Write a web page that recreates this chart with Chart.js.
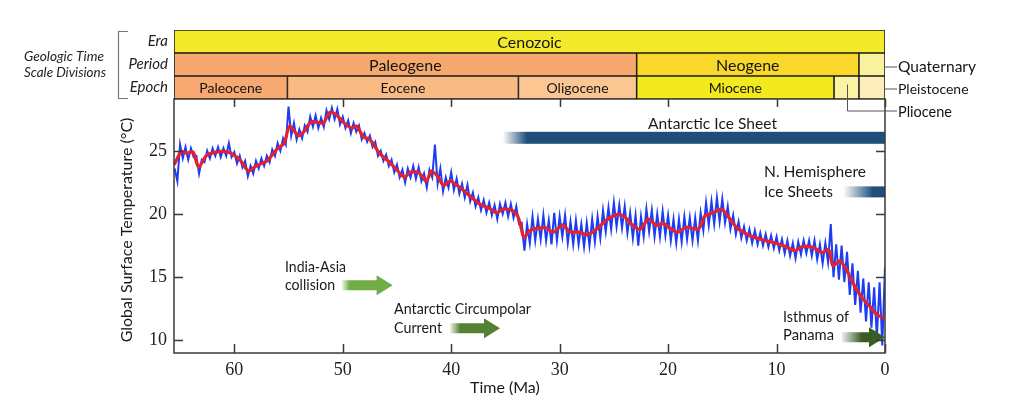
<!DOCTYPE html>
<html><head><meta charset="utf-8">
<script src="https://cdn.jsdelivr.net/npm/chart.js@4.4.1/dist/chart.umd.min.js"></script>
<style>
html,body{margin:0;padding:0;background:#fff;}
#wrap{position:relative;width:1024px;height:419px;overflow:hidden;}
#main{position:absolute;left:0;top:0;}
#scale{position:absolute;left:0;top:0;}
</style></head><body>
<div id="wrap">
<canvas id="main" width="1024" height="419"></canvas>
<canvas id="scale" width="1024" height="125"></canvas>
</div>
<script>
// ---------------- DATA ----------------
// Smoothed (red) curve: age (Ma) and temperature (°C)
const smoothAge = [65.56,65.4,64.9,64.4,63.8,63.3,62.6,61.7,60.6,59.5,58.7,58.0,57.0,56.1,55.4,54.9,54.1,53.6,52.9,51.8,51.2,50.6,50.0,49.2,48.7,48.1,47.5,46.6,45.7,44.7,44.3,43.8,43.0,42.3,41.8,41.2,40.7,40.1,39.2,38.3,37.4,36.4,35.8,35.2,34.3,33.8,33.5,33.3,32.7,31.8,31.2,30.6,29.7,29.1,28.1,27.5,26.6,25.7,24.75,24.1,23.4,22.6,21.8,21.1,20.45,19.2,18.3,17.2,16.6,15.8,15.1,14.5,13.7,12.75,11.5,10.3,9.4,8.3,7.7,6.6,5.8,5.2,4.8,4.15,3.5,2.9,2.15,1.4,0.77,0.3,0.05];
const smoothTemp = [23.9,24.15,24.95,24.8,24.9,23.7,24.6,24.9,24.9,24.3,23.4,23.8,24.2,25.1,25.6,26.95,26.2,26.5,27.3,27.2,28.05,27.85,27.3,26.8,26.95,26.1,25.9,24.8,24.1,23.2,22.9,23.3,23.3,22.6,23.4,22.9,22.25,22.6,22.1,21.45,20.8,20.4,20.1,20.4,20.25,19.7,18.7,18.15,18.7,18.9,18.9,18.55,19.15,18.6,18.55,18.35,18.8,19.5,19.95,19.85,19.2,18.8,19.6,19.1,19.25,18.55,18.95,18.8,19.85,20.1,20.4,19.85,18.95,18.4,18.0,17.75,17.5,17.1,17.4,17.35,16.95,17.2,15.9,16.3,15.5,14.45,13.4,12.7,12.05,11.85,11.8];
// Raw (blue) record, sampled every 0.25 Ma from 65.5 Ma to 0 Ma
const rawFirstAge = 65.5;
const rawStep = 0.25;
const rawTemp = [
 23.6,22.6,25.5,24.4, 25.3,24.3,25.2,24.5, 24.6,23.2,24.3,24.1, 25.0,24.4,25.2,24.6,
 25.3,24.5,25.2,24.6, 25.6,24.5,24.9,24.0, 24.6,23.7,24.2,23.0, 23.8,23.2,24.2,23.6,
 24.4,23.8,24.6,24.1, 25.1,24.6,25.6,25.0, 26.0,25.5,28.5,26.2, 27.2,25.9,26.7,26.0,
 27.0,26.5,27.7,26.9, 27.8,26.8,27.6,26.9, 28.2,27.5,28.4,27.5, 28.3,27.1,27.7,26.8,
 27.4,26.4,27.2,26.5, 27.0,25.9,26.4,25.7, 26.2,25.3,25.7,24.6, 25.0,24.2,24.7,23.8,
 24.3,23.3,23.9,22.9, 23.5,22.5,23.6,22.9, 23.8,22.8,23.7,22.6, 23.2,22.1,23.5,22.9,
 25.5,22.4,23.6,21.8, 22.9,22.1,23.3,21.9, 22.8,21.6,22.4,21.3, 22.3,21.0,21.7,20.6,
 21.3,20.3,21.1,20.1, 20.9,19.9,20.7,19.6, 20.8,20.0,20.9,19.8, 20.8,19.7,20.6,19.2,
 19.3,17.1,19.2,17.7, 19.8,17.9,19.6,18.0, 19.9,17.9,19.5,17.6, 20.1,17.9,19.8,18.2,
 19.9,17.7,19.4,17.6, 19.5,17.6,19.2,17.4, 19.3,17.5,19.6,17.8, 19.8,18.1,20.3,18.6,
 20.5,18.8,20.9,19.0, 20.7,18.9,20.6,18.5, 20.1,18.1,19.9,17.5, 19.8,18.2,20.4,18.6,
 20.3,18.2,20.0,18.2, 20.2,18.3,19.9,17.9, 19.6,17.7,19.6,17.8, 19.8,18.0,19.7,17.9,
 19.7,17.9,20.1,18.7, 20.9,19.1,21.0,19.2, 21.3,19.4,21.2,19.3, 20.6,18.8,19.9,18.4,
 19.4,18.1,19.0,17.9, 18.8,17.7,18.7,17.6, 18.5,17.5,18.4,17.4, 18.3,17.3,18.2,17.1,
 18.0,16.9,17.9,16.7, 17.7,16.5,17.8,16.8, 17.9,16.9,17.9,16.7, 17.9,16.4,17.6,16.1,
 17.7,16.2,19.2,15.0, 17.6,14.8,17.5,14.6, 17.0,13.6,16.1,12.8, 15.5,12.2,14.9,11.5,
 14.6,11.0,14.2,10.2, 14.6,9.6,15.8
];
const xTicks = [60,50,40,30,20,10,0];
const yTicks = [10,15,20,25];
const axisAgeMax = 65.56;
const tempMin = 9.0, tempMax = 29.1;

// Geologic time scale
const rowNames = ['Era','Period','Epoch'];
const unitNames = ['Cenozoic','Paleogene','Neogene','Quaternary','Paleocene','Eocene','Oligocene','Miocene','Pliocene','Pleistocene'];
const unitRow   = ['Era','Period','Period','Period','Epoch','Epoch','Epoch','Epoch','Epoch','Epoch'];
const unitStart = [65.56,65.56,22.9,2.4,65.56,55.1,33.8,22.9,4.7,2.4];
const unitEnd   = [0,22.9,2.4,0,55.1,33.8,22.9,4.7,2.4,0];

// Ice sheets
const iceNames = ['Antarctic Ice Sheet','N. Hemisphere Ice Sheets'];
const iceStart = [35.24,3.87];
const iceEnd = [0,0];
const iceTemp = [26.03,21.75];

// Tectonic events (arrows)
const eventNames = ['India-Asia collision','Antarctic Circumpolar Current','Isthmus of Panama'];
const eventStart = [50.1,40.1,3.97];
const eventEnd = [45.4,35.5,0];
const eventTemp = [14.37,10.95,10.24];

// ---------------- STYLE ----------------
const SANS = 'Lato, "Liberation Sans", sans-serif';
const unitColors = {Cenozoic:'#F3EA2B',Paleogene:'#F7A86F',Neogene:'#F9D82B',Quaternary:'#F9F29C',Paleocene:'#F8A972',Eocene:'#FABA83',Oligocene:'#FBC691',Miocene:'#F3EA1E',Pliocene:'#FAF3A4',Pleistocene:'#FCEDBB'};
const iceStyle = [{h:12,fade:24},{h:11,fade:30}];
const arrowStyle = [{c:[112,173,71],fade:8},{c:[84,130,53],fade:10},{c:[58,92,37],fade:20}];
const textLabels = [
  {t:'Antarctic Ice Sheet',x:648,y:129,w:129},
  {t:'N. Hemisphere',x:764,y:177,w:102},
  {t:'Ice Sheets',x:764,y:197,w:69},
  {t:'India-Asia',x:285,y:272,w:61},
  {t:'collision',x:285,y:290,w:50},
  {t:'Antarctic Circumpolar',x:394,y:314,w:137},
  {t:'Current',x:394,y:333,w:48},
  {t:'Isthmus of',x:783,y:322,w:66},
  {t:'Panama',x:783,y:340,w:51}
];

// ---------------- MAIN CHART ----------------
const rawPoints = rawTemp.map((v,i)=>({x: rawFirstAge - i*rawStep, y: v}));
const smoothPoints = smoothAge.map((a,i)=>({x:a, y:smoothTemp[i]}));

const mainPlugin = {
  id:'mainPlugin',
  afterDatasetsDraw(chart){
    const {ctx, scales:{x,y}} = chart;
    ctx.save();
    iceNames.forEach((n,i)=>{
      const x0=x.getPixelForValue(iceStart[i]), x1=x.getPixelForValue(iceEnd[i]), yc=y.getPixelForValue(iceTemp[i]);
      const s=iceStyle[i];
      const g=ctx.createLinearGradient(x0,0,x0+s.fade,0);
      g.addColorStop(0,'rgba(31,78,121,0)');
      g.addColorStop(1,'rgba(31,78,121,1)');
      ctx.fillStyle=g;
      ctx.fillRect(x0,yc-s.h/2,x1-x0,s.h);
    });
    eventNames.forEach((n,i)=>{
      const x0=x.getPixelForValue(eventStart[i]), x1=x.getPixelForValue(eventEnd[i]), yc=y.getPixelForValue(eventTemp[i]);
      const s=arrowStyle[i], bh=10, hh=20, hl=16;
      const c=s.c.join(',');
      const g=ctx.createLinearGradient(x0,0,x0+s.fade,0);
      g.addColorStop(0,'rgba('+c+',0.1)');
      g.addColorStop(1,'rgba('+c+',1)');
      ctx.fillStyle=g;
      ctx.beginPath();
      ctx.moveTo(x0,yc-bh/2); ctx.lineTo(x1-hl,yc-bh/2); ctx.lineTo(x1-hl,yc-hh/2);
      ctx.lineTo(x1,yc); ctx.lineTo(x1-hl,yc+hh/2); ctx.lineTo(x1-hl,yc+bh/2);
      ctx.lineTo(x0,yc+bh/2); ctx.closePath(); ctx.fill();
    });
    ctx.restore();
  },
  afterDraw(chart){
    const {ctx, chartArea:a, scales:{x,y}} = chart;
    ctx.save();
    ctx.strokeStyle='#3a3a3a'; ctx.lineWidth=1.5;
    ctx.strokeRect(a.left,a.top,a.right-a.left,a.bottom-a.top);
    ctx.lineWidth=1.5;
    ctx.beginPath();
    xTicks.forEach(v=>{const p=Math.round(x.getPixelForValue(v))+0.5;
      ctx.moveTo(p,a.bottom); ctx.lineTo(p,a.bottom-9);
      ctx.moveTo(p,a.top); ctx.lineTo(p,a.top+8);});
    yTicks.forEach(v=>{const p=Math.round(y.getPixelForValue(v))+0.5;
      ctx.moveTo(a.left,p); ctx.lineTo(a.left+9,p);
      ctx.moveTo(a.right,p); ctx.lineTo(a.right-9,p);});
    ctx.stroke();
    ctx.fillStyle='#1a1a1a';
    ctx.font='16px '+SANS;
    ctx.textAlign='left'; ctx.textBaseline='alphabetic';
    textLabels.forEach(l=>ctx.fillText(l.t,l.x,l.y,l.w));
    ctx.font='16px '+SANS;
    ctx.fillText('Time (Ma)',470,393,71);
    ctx.translate(127,230); ctx.rotate(-Math.PI/2);
    ctx.textAlign='center'; ctx.textBaseline='middle';
    ctx.font='16px '+SANS;
    ctx.fillText('Global Surface Temperature (°C)',0,0,233);
    ctx.restore();
  }
};

new Chart(document.getElementById('main'),{
  type:'line',
  data:{datasets:[
    {label:'Smoothed',data:smoothPoints,borderColor:'#E6202C',borderWidth:3.2,pointRadius:0,tension:0.25,fill:false},
    {label:'Raw',data:rawPoints,borderColor:'#1E3CF2',borderWidth:2.0,pointRadius:0,tension:0,fill:false}
  ]},
  options:{
    responsive:false, animation:false,
    layout:{padding:{left:112,right:139,top:99,bottom:10}},
    plugins:{legend:{display:false},tooltip:{enabled:false}},
    scales:{
      x:{type:'linear',reverse:true,min:0,max:axisAgeMax,
        afterBuildTicks:s=>{s.ticks=xTicks.map(v=>({value:v}));},
        afterFit:s=>{s.height=56;},
        grid:{display:false,drawTicks:false},border:{display:false},
        ticks:{padding:6,color:'#222',font:{family:'"Liberation Serif", serif',size:18}}},
      y:{type:'linear',min:tempMin,max:tempMax,
        afterBuildTicks:s=>{s.ticks=yTicks.map(v=>({value:v}));},
        afterFit:s=>{s.width=62;},
        grid:{display:false,drawTicks:false},border:{display:false},
        ticks:{padding:7,color:'#222',font:{family:'"Liberation Serif", serif',size:18}}}
    }
  },
  plugins:[mainPlugin]
});

// ---------------- TIME SCALE CHART ----------------
const scalePlugin = {
  id:'scalePlugin',
  afterDatasetsDraw(chart){
    const {ctx, chartArea:a} = chart;
    const meta=chart.getDatasetMeta(0);
    ctx.save();
    ctx.fillStyle='#141414';
    ctx.textAlign='center'; ctx.textBaseline='alphabetic';
    const pos={};
    meta.data.forEach((el,i)=>{
      const p=el.getProps(['x','y','base','height'],true);
      const l=Math.min(p.x,p.base), r=Math.max(p.x,p.base);
      pos[unitNames[i]]={l,r,y:p.y,h:p.height};
      const w=r-l;
      if(w>60){
        const isEpoch=unitRow[i]==='Epoch';
        ctx.font=(isEpoch?'14px ':'16px ')+SANS;
        ctx.fillText(unitNames[i],(l+r)/2,p.y+(isEpoch?5:6),w-6);
      }
    });
    // external labels with leader lines
    ctx.strokeStyle='#555'; ctx.lineWidth=1;
    ctx.textAlign='left';
    const q=pos['Quaternary'], ps=pos['Pleistocene'], pl=pos['Pliocene'];
    ctx.beginPath();
    ctx.moveTo(a.right,q.y+2.5); ctx.lineTo(a.right+12,q.y+2.5);
    ctx.moveTo(a.right,ps.y+1.5); ctx.lineTo(a.right+12,ps.y+1.5);
    const cx=Math.round((pl.l+pl.r)/2)+0.5;
    ctx.moveTo(cx,pl.y-3); ctx.lineTo(cx,a.bottom+12); ctx.lineTo(a.right+12,a.bottom+12);
    ctx.stroke();
    ctx.font='16px '+SANS; ctx.fillText('Quaternary',a.right+13,q.y+7,78);
    ctx.font='14px '+SANS; ctx.fillText('Pleistocene',a.right+13,ps.y+6.5,72);
    ctx.font='15px '+SANS; ctx.fillText('Pliocene',a.right+13,a.bottom+18,54);
    // left description + bracket
    ctx.font='italic 14px '+SANS; ctx.textAlign='center'; ctx.fillStyle='#222';
    ctx.fillText('Geologic Time',64,61,80);
    ctx.fillText('Scale Divisions',65,77,82);
    ctx.strokeStyle='#777'; ctx.lineWidth=1.2;
    ctx.beginPath();
    ctx.moveTo(128,31.5); ctx.lineTo(118.5,31.5); ctx.lineTo(118.5,98.5); ctx.lineTo(128,98.5);
    ctx.stroke();
    ctx.restore();
  }
};

new Chart(document.getElementById('scale'),{
  type:'bar',
  data:{labels:rowNames,datasets:[{
    data:unitNames.map((n,i)=>({x:[unitStart[i],unitEnd[i]],y:unitRow[i]})),
    backgroundColor:unitNames.map(n=>unitColors[n]),
    borderColor:'#1b1b1b',borderWidth:1.1,borderSkipped:false,
    barPercentage:1,categoryPercentage:1
  }]},
  options:{
    indexAxis:'y',responsive:false,animation:false,
    layout:{padding:{left:112,right:139,top:30,bottom:26}},
    plugins:{legend:{display:false},tooltip:{enabled:false}},
    scales:{
      x:{type:'linear',reverse:true,min:0,max:axisAgeMax,display:false},
      y:{type:'category',afterFit:s=>{s.width=62;},
        grid:{display:false,drawTicks:false},border:{display:false},
        ticks:{padding:6,color:'#222',font:{family:'Lato, "Liberation Sans", sans-serif',style:'italic',size:15}}}
    }
  },
  plugins:[scalePlugin]
});
</script>
</body></html>
